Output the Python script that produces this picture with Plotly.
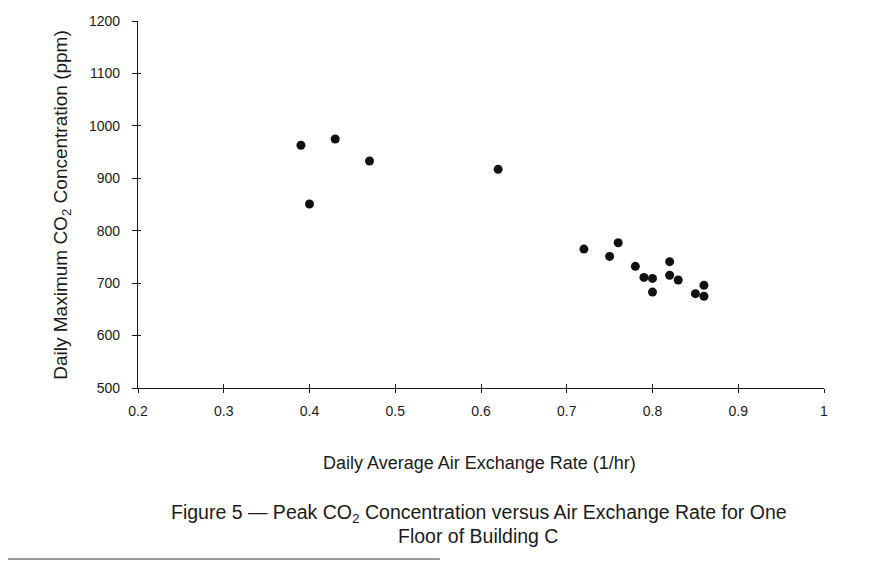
import plotly.graph_objects as go

# Data
air_exchange = [0.39, 0.40, 0.43, 0.47, 0.62,
                0.72, 0.75, 0.76, 0.78, 0.79, 0.80, 0.80,
                0.82, 0.82, 0.83, 0.85, 0.86, 0.86]
peak_co2 = [963, 851, 975, 933, 917,
            765, 751, 777, 732, 711, 709, 683,
            741, 715, 706, 680, 696, 675]

x_range = [0.2, 1.0]
y_range = [500, 1200]
x_ticks = [0.2, 0.3, 0.4, 0.5, 0.6, 0.7, 0.8, 0.9, 1.0]
x_tick_labels = ["0.2", "0.3", "0.4", "0.5", "0.6", "0.7", "0.8", "0.9", "1"]
y_ticks = [500, 600, 700, 800, 900, 1000, 1100, 1200]

x_title = "Daily Average Air Exchange Rate (1/hr)"
y_title = "Daily Maximum CO<sub>2</sub> Concentration (ppm)"
caption_1 = "Figure 5 \u2014 Peak CO<sub>2</sub> Concentration versus Air Exchange Rate for One"
caption_2 = "Floor of Building C"

FONT = "Liberation Sans, Arial, Helvetica, sans-serif"
INK = "#1a1a1a"

fig = go.Figure()
fig.add_trace(go.Scatter(
    x=air_exchange, y=peak_co2, mode="markers",
    marker=dict(color="#111111", size=9, line=dict(width=0)),
    showlegend=False, hoverinfo="x+y",
))
# empty trace to carry the overlay axes (gives crossing tick marks)
fig.add_trace(go.Scatter(x=[], y=[], xaxis="x2", yaxis="y2",
                         showlegend=False, hoverinfo="skip"))

# The page body adds an 8px margin, so the figure is sized 863x557
fig.update_layout(
    width=863, height=557,
    margin=dict(l=130, r=47, t=13, b=177, autoexpand=False),
    paper_bgcolor="white", plot_bgcolor="white",
    font=dict(family=FONT, color=INK, size=13),
    xaxis=dict(
        range=x_range, tickvals=x_ticks, ticktext=x_tick_labels,
        showgrid=False, zeroline=False, automargin=False,
        showline=True, linecolor=INK, linewidth=1.3,
        ticks="outside", ticklen=4, tickwidth=1.2, tickcolor=INK,
        ticklabelstandoff=6,
        tickfont=dict(size=14, color=INK),
    ),
    yaxis=dict(
        range=y_range, tickvals=y_ticks,
        showgrid=False, zeroline=False, automargin=False,
        showline=True, linecolor=INK, linewidth=1.3,
        ticks="outside", ticklen=5, tickwidth=1.2, tickcolor=INK,
        ticklabelstandoff=9,
        tickfont=dict(size=14, color=INK),
    ),
    xaxis2=dict(
        overlaying="x", matches="x", range=x_range, tickvals=x_ticks,
        showticklabels=False, showgrid=False, zeroline=False, showline=False,
        ticks="inside", ticklen=4, tickwidth=1.2, tickcolor=INK,
    ),
    yaxis2=dict(
        overlaying="y", matches="y", range=y_range, tickvals=y_ticks,
        showticklabels=False, showgrid=False, zeroline=False, showline=False,
        ticks="inside", ticklen=3, tickwidth=1.2, tickcolor=INK,
    ),
    annotations=[
        dict(text=x_title, xref="paper", yref="paper", x=0.4985, y=-0.204,
             xanchor="center", yanchor="middle", showarrow=False,
             font=dict(size=18, color=INK)),
        dict(text=y_title, xref="paper", yref="paper", x=-0.111, y=0.499,
             xanchor="center", yanchor="middle", showarrow=False, textangle=-90,
             font=dict(size=19, color=INK)),
        dict(text=caption_1, xref="paper", yref="paper", x=0.497, y=-0.341,
             xanchor="center", yanchor="middle", showarrow=False,
             font=dict(size=19.5, color=INK)),
        dict(text=caption_2, xref="paper", yref="paper", x=0.4956, y=-0.403,
             xanchor="center", yanchor="middle", showarrow=False,
             font=dict(size=19.5, color=INK)),
    ],
    shapes=[dict(type="line", xref="paper", yref="paper",
                 x0=-0.19, x1=0.44, y0=-0.466, y1=-0.466,
                 line=dict(color="#333333", width=1))],
)

fig.write_html("out.html")
